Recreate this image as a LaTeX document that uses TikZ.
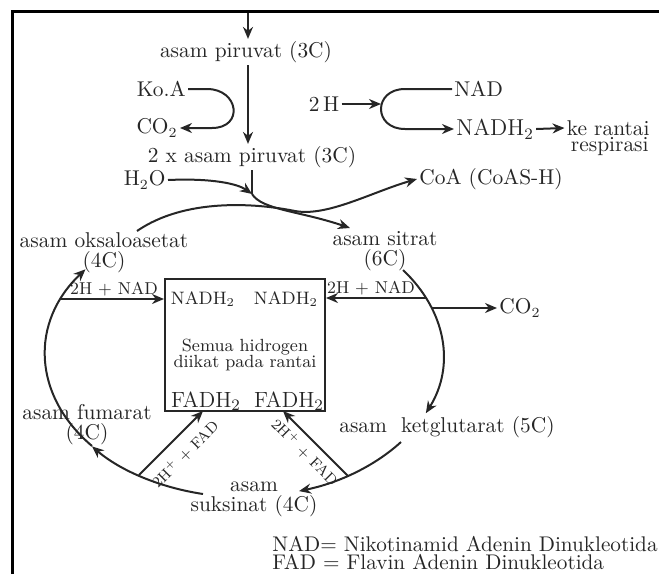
\documentclass[tikz,border=0pt]{standalone}
\usetikzlibrary{arrows.meta,positioning}

\begin{document}
\begin{tikzpicture}[x=0.5pt,y=-0.5pt,
  every node/.style={font=\fontsize{10.7}{10}\selectfont,text=black!85,inner sep=1pt},
  arr/.style={draw=black!85,line width=1pt,-{Stealth[length=6pt,width=5pt]}},
  ln/.style={draw=black!85,line width=1pt},
  small/.style={font=\fontsize{8.6}{9}\selectfont},
  tiny/.style={font=\fontsize{7.5}{8}\selectfont}]
\useasboundingbox (0,0) rectangle (659,574);
\draw[line width=1.5pt] (12,574) -- (12,11) -- (659,11);
%\draw[help lines,step=50] (0,0) grid (659,574);
\node (piru) at (246,52) {asam piruvat (3C)};
\node[anchor=east] (koa) at (188,89) {Ko.A};
\node[anchor=east] (coL) at (180,128) {CO$_2$};
\node (dua) at (252,157) {2 x asam piruvat (3C)};
\node[anchor=east] (hw) at (168,180) {H$_2$O};
\node (dh) at (324,104) {2\,H};
\node[anchor=west] (nad) at (452,89) {NAD};
\node[anchor=west,font=\fontsize{11.5}{12}\selectfont] (nadh) at (454,129) {NADH$_2$};
\node[anchor=east] (kr) at (652,128) {ke rantai};
\node[anchor=east] (resp) at (651,147) {respirasi};
\node[anchor=west] (coa) at (417,179) {CoA (CoAS-H)};
\node[align=center] (oks) at (104,253) {asam oksaloasetat\\(4C)};
\node[align=center] (sit) at (385,251) {asam sitrat\\(6C)};
\node[align=center] (fum) at (87,425) {asam fumarat\\(4C)};
\node[align=center] (suk) at (254,499) {asam\\suksinat (4C)};
\node (ket) at (447,427) {asam\ \ ketglutarat (5C)};
\node[draw=black!85,line width=1pt,minimum width=80pt,minimum height=66pt] (box) at (245,345) {};
\node[align=center,font=\fontsize{8.8}{8.3}\selectfont] (semua) at (245,355) {Semua hidrogen\\diikat pada rantai};
\node[font=\fontsize{9}{10}\selectfont] (nh1) at (203,299) {NADH$_2$};
\node[font=\fontsize{9}{10}\selectfont] (nh2) at (286,299) {NADH$_2$};
\node[font=\fontsize{11}{12}\selectfont] (fh1) at (206,401) {FADH$_2$};
\node[font=\fontsize{11}{12}\selectfont] (fh2) at (289,401) {FADH$_2$};
\node[small] (lbl1) at (114,289) {2H + NAD};
\node[small] (lbl2) at (371,288) {2H + NAD};
\node[anchor=west] (coR) at (497,308) {CO$_2$};
\node[tiny,rotate=45] (fl1) at (185,454) {2H$^+$ + FAD};
\node[tiny,rotate=-45] (fl2) at (305,452) {2H$^+$ + FAD};
\node[align=left,anchor=west,font=\fontsize{10.6}{9.2}\selectfont] (leg) at (270,553) {NAD= Nikotinamid Adenin Dinukleotida\\FAD = Flavin Adenin Dinukleotida};
\coordinate (top) at (248,13);
\coordinate (k1) at (207,89); \coordinate (k2) at (212,128);
\coordinate (cl) at (381,104);
\coordinate (n1) at (405,89); \coordinate (n2) at (405,129);
\coordinate (j1) at (252,194); \coordinate (s1) at (350,228);
\coordinate (o1) at (137,231); \coordinate (cx) at (295,211);
\coordinate (e1) at (403,270); \coordinate (e2) at (401,442);
\coordinate (e3) at (203,494); \coordinate (e4) at (92,446);
\coordinate (h1) at (61,299); \coordinate (h2) at (427,298); \coordinate (h3) at (432,308);
\coordinate (f1) at (139,475); \coordinate (t1) at (203,411);
\coordinate (f2) at (348,476); \coordinate (t2) at (283,411);
\draw[arr] (top) -- (top |- piru.north);
\draw[arr] (piru.south -| top) -- (dua.north -| top);
\draw[arr] (koa.east) -- (k1) .. controls +(32,0) and +(32,0) .. (k2) -- (coL.east);
\draw[arr] (dh.east) -- (cl);
\draw[arr] (nad.west) -- (n1) .. controls +(-32,0) and +(-32,0) .. (n2) -- (nadh.west);
\draw[arr] (nadh.east) -- (kr.west);
\draw[arr] (hw.east) .. controls +(45,-2) and (238,184) .. (j1);
\draw[ln] (dua.south -| j1) -- (j1);
\draw[arr] (j1) .. controls (262,210) and (300,211) .. (s1);
\draw[arr] (o1) .. controls (185,198) and (255,203) .. (cx) .. controls (327,217) and (372,192) .. (coa.west);
\draw[arr] (e1) arc[start angle=-37,end angle=24,x radius=199,y radius=142];
\draw[arr] (e2) arc[start angle=38,end angle=74,x radius=199,y radius=142];
\draw[arr] (e3) arc[start angle=102,end angle=140,x radius=199,y radius=142];
\draw[arr] (e4) arc[start angle=140,end angle=217,x radius=199,y radius=142];
\draw[arr] (h1) -- (h1 -| box.west);
\draw[arr] (h2) -- (h2 -| box.east);
\draw[arr] (h3) -- (coR.west);
\draw[arr] (f1) -- (t1);
\draw[arr] (f2) -- (t2);
\end{tikzpicture}
\end{document}
